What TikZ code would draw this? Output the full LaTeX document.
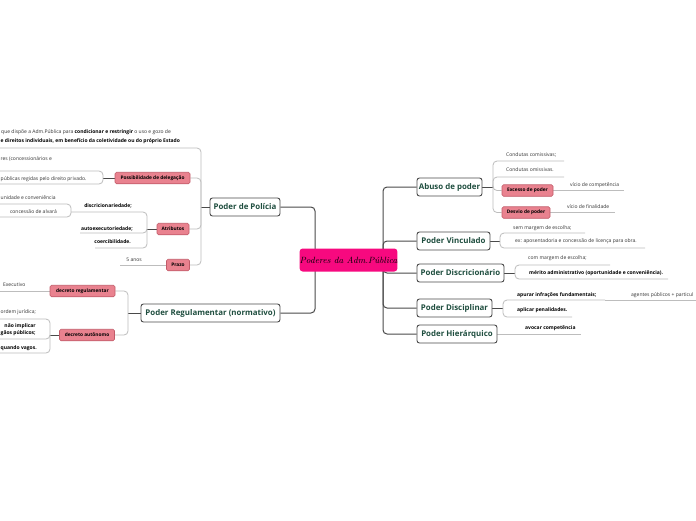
\documentclass[tikz,border=0pt]{standalone}
\usepackage{fontspec}
\setsansfont{Open Sans}
\usetikzlibrary{backgrounds}
\definecolor{rootc}{HTML}{F7097F}
\definecolor{pinkf}{HTML}{E9828F}
\definecolor{pinkd}{HTML}{C25B69}
\definecolor{topicc}{HTML}{1F4E3F}
\definecolor{darkl}{HTML}{4A4A4A}
\definecolor{lightl}{HTML}{BDBDBD}
\definecolor{txt}{HTML}{333333}
\newcommand\smfont{\fontsize{5}{7}\selectfont\sffamily}
\begin{document}
\begin{tikzpicture}[x=1pt,y=-1pt,
  rootnode/.style={fill=rootc, draw=none, rounded corners=3pt, font=\fontsize{9}{10}\selectfont\itshape, text=black, inner sep=0pt},
  topic/.style={draw=darkl, line width=0.9pt, fill=white, rounded corners=2.5pt, text=topicc, font=\fontsize{7.9}{9}\selectfont\sffamily\bfseries, minimum height=18pt, inner xsep=1pt, inner ysep=0pt},
  pinkbox/.style={draw=pinkd, line width=0.6pt, fill=pinkf, rounded corners=1.5pt, font=\fontsize{4.8}{5}\selectfont\sffamily\bfseries, minimum height=11.5pt, inner xsep=1pt, inner ysep=0pt},
  lbl/.style={font=\smfont, text=txt, inner sep=0pt},
  blbl/.style={font=\smfont\bfseries, text=black, inner sep=0pt},
  mainlink/.style={draw=darkl, line width=1pt, rounded corners=4pt},
  stub/.style={draw=darkl, line width=1pt},
  sub/.style={draw=lightl, line width=0.8pt, rounded corners=4pt}]
\useasboundingbox (0,0) rectangle (696,520);
% root and main topics
\node[rootnode, minimum width=97pt, minimum height=23pt] (root) at (348.5,260) {Poderes da Adm.Pública};
\node[topic, minimum width=70pt] (pp) at (245,207) {Poder de Polícia};
\node[topic, minimum width=139pt] (pr) at (210.5,313) {Poder Regulamentar (normativo)};
\node[topic, minimum width=65pt] (ab) at (449.5,187) {Abuso de poder};
\node[topic, minimum width=73pt] (pv) at (453.5,241) {Poder Vinculado};
\node[topic, minimum width=87pt] (pdc) at (460.5,273) {Poder Discricionário};
\node[topic, minimum width=75pt] (pds) at (454.5,308) {Poder Disciplinar};
\node[topic, minimum width=80pt] (ph) at (457,334) {Poder Hierárquico};
\coordinate (rL) at (315,260);
\coordinate (rR) at (383,260);
% Poder de Policia
\coordinate (bPP) at (201,207);
\node[lbl, anchor=west] (t1a) at (1,132) {que dispõe a Adm.Pública para \textbf{\color{black}condicionar e restringir} o uso e gozo de};
\node[blbl, anchor=west] (t1b) at (0.5,141) {e direitos individuais, em benefício da coletividade ou do próprio Estado};
\coordinate (u1) at (-5,148);
\node[pinkbox, minimum width=75pt] (pd) at (152.5,178) {Possibilidade de delegação};
\node[pinkbox, minimum width=32pt] (at) at (173,229) {Atributos};
\node[pinkbox, minimum width=23pt] (pz) at (178,265) {Prazo};
\coordinate (bPD) at (103,178);
\node[lbl, anchor=west] (t2) at (0.5,159) {res (concessionários e};
\node[lbl, anchor=west] (t3) at (0.5,179) {públicas regidas pelo direito privado.};
\coordinate (u2) at (-5,171);
\coordinate (u3) at (-5,184);
\coordinate (bAT) at (147,229);
\node[blbl, anchor=east] (t4) at (132,206) {discricionariedade;};
\node[blbl, anchor=east] (t5) at (133,228.5) {autoexecutoriedade;};
\node[blbl, anchor=east] (t6) at (131,242) {coercibilidade.};
\coordinate (u4) at (71,212);
\coordinate (u5) at (80,233);
\coordinate (u6) at (95,248);
\node[lbl, anchor=west] (t7) at (0.5,197.5) {unidade e conveniência};
\node[lbl, anchor=east] (t8) at (57,212) {concessão de alvará};
\coordinate (u7) at (-5,204);
\coordinate (u8) at (-5,217);
\node[lbl, anchor=east] (t9) at (142,260) {5 anos};
\coordinate (u9) at (120,265);
% Poder Regulamentar
\coordinate (bPR) at (128,313);
\node[pinkbox, minimum width=65pt] (dr) at (82.5,291) {decreto regulamentar};
\node[pinkbox, minimum width=55pt] (da) at (87,335) {decreto autônomo};
\node[lbl, anchor=west] (t10) at (3,285) {Executivo};
\coordinate (u10) at (-5,291);
\coordinate (bDA) at (50,335);
\node[lbl, anchor=west] (t11) at (0.5,312) {ordem jurídica;};
\node[blbl, anchor=west, align=right] (t12) at (0.5,329.5) {não implicar\\gãos públicos;};
\node[blbl, anchor=west] (t13) at (0.5,348) {quando vagos.};
\coordinate (u11) at (-5,319);
\coordinate (u12) at (-5,339);
\coordinate (u13) at (-5,353);
% Abuso de poder
\coordinate (bAB) at (493,187);
\node[lbl, anchor=west] (r1) at (506,155) {Condutas comissivas;};
\coordinate (v1) at (564,161);
\node[lbl, anchor=west] (r2) at (506,170) {Condutas omissivas.};
\coordinate (v2) at (564,177);
\node[pinkbox, minimum width=51pt] (ex) at (527.5,190.5) {Excesso de poder};
\node[pinkbox, minimum width=48pt] (dv) at (526,212.5) {Desvio de poder};
\node[lbl, anchor=west] (r3) at (570,185) {vício de competência};
\coordinate (v3) at (624,190.5);
\node[lbl, anchor=west] (r4) at (567,206.5) {vício de finalidade};
\coordinate (v4) at (615,212.5);
% Vinculado
\coordinate (bPV) at (500,241);
\node[lbl, anchor=west] (r5) at (513,228) {sem margem de escolha;};
\coordinate (v5) at (585,233);
\node[lbl, anchor=west] (r6) at (515,241.5) {ex: aposentadoria e concessão de licença para obra.};
\coordinate (v6) at (645,248);
% Discricionario
\coordinate (bDC) at (515,273);
\node[lbl, anchor=west] (r7) at (528,258.5) {com margem de escolha;};
\coordinate (v7) at (610,265);
\node[blbl, anchor=west] (r8) at (529,273.5) {mérito administrativo (oportunidade e conveniência).};
\coordinate (v8) at (668,279);
% Disciplinar
\coordinate (bDS) at (503,308);
\node[blbl, anchor=west] (r9) at (517,295) {apurar infrações fundamentais;};
\coordinate (v9) at (605,300);
\node[lbl, anchor=west] (r10) at (631,295) {agentes públicos + particul};
\coordinate (v10) at (700,300);
\node[blbl, anchor=west] (r11) at (517,310.5) {aplicar penalidades.};
\coordinate (v11) at (572,317);
% Hierarquico
\node[blbl, anchor=west] (r12) at (525,328) {avocar competência};
\coordinate (v12) at (581,334);
\begin{pgfonlayer}{background}
\fill[white] (0,0) rectangle (696,520);
\draw[mainlink] (rL) |- (pp.east);
\draw[mainlink] (rL) |- (pr.east);
\draw[mainlink] (rR) |- (ab.west);
\draw[mainlink] (rR) |- (pv.west);
\draw[mainlink] (rR) |- (pdc.west);
\draw[mainlink] (rR) |- (pds.west);
\draw[mainlink] (rR) |- (ph.west);
% left
\draw[stub] (pp.west) -- (bPP);
\draw[sub] (bPP) |- (u1);
\draw[sub] (bPP) |- (pd.east);
\draw[sub] (bPP) |- (at.east);
\draw[sub] (bPP) |- (pz.east);
\draw[stub] (pd.west) -- (bPD);
\draw[sub] (bPD) |- (u2);
\draw[sub] (bPD) |- (u3);
\draw[stub] (at.west) -- (bAT);
\draw[sub] (bAT) |- (u4);
\draw[sub] (bAT) |- (u5);
\draw[sub] (bAT) |- (u6);
\draw[sub] (u4) |- (u7);
\draw[sub] (u4) |- (u8);
\draw[sub] (pz.west) -- (u9);
\draw[stub] (pr.west) -- (bPR);
\draw[sub] (bPR) |- (dr.east);
\draw[sub] (bPR) |- (da.east);
\draw[sub] (dr.west) -- (u10);
\draw[stub] (da.west) -- (bDA);
\draw[sub] (bDA) |- (u11);
\draw[sub] (bDA) |- (u12);
\draw[sub] (bDA) |- (u13);
% right
\draw[stub] (ab.east) -- (bAB);
\draw[sub] (bAB) |- (v1);
\draw[sub] (bAB) |- (v2);
\draw[sub] (bAB) |- (ex.west);
\draw[sub] (bAB) |- (dv.west);
\draw[sub] (ex.east) -- (v3);
\draw[sub] (dv.east) -- (v4);
\draw[stub] (pv.east) -- (bPV);
\draw[sub] (bPV) |- (v5);
\draw[sub] (bPV) |- (v6);
\draw[stub] (pdc.east) -- (bDC);
\draw[sub] (bDC) |- (v7);
\draw[sub] (bDC) |- (v8);
\draw[stub] (pds.east) -- (bDS);
\draw[sub] (bDS) |- (v9);
\draw[sub] (v9) -- (v10);
\draw[sub] (bDS) |- (v11);
\draw[sub] (ph.east) -- (v12);
\end{pgfonlayer}
\end{tikzpicture}
\end{document}
